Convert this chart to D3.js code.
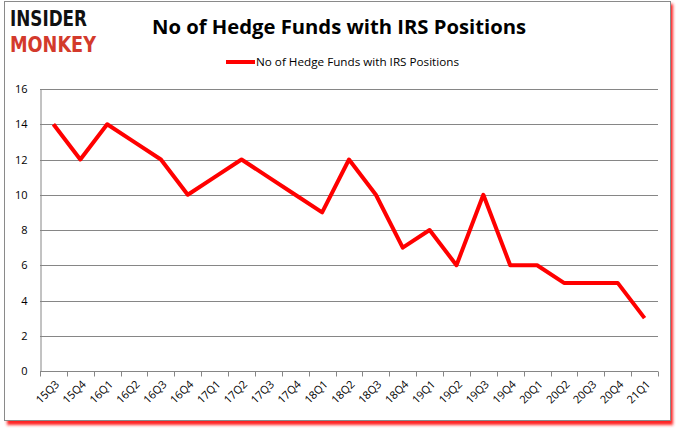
<!DOCTYPE html>
<html>
<head>
<meta charset="utf-8">
<script src="https://cdn.jsdelivr.net/npm/d3@7"></script>
<style>
  body { margin: 0; background: #fff; }
  svg { display: block; }
  text { font-family: "Open Sans", "DejaVu Sans", sans-serif; }
</style>
</head>
<body>
<svg id="chart" width="678" height="431"></svg>
<script>
'use strict';

// quarters on the x axis
var quarters = ['15Q3', '15Q4', '16Q1', '16Q2', '16Q3', '16Q4', '17Q1', '17Q2', '17Q3', '17Q4',
    '18Q1', '18Q2', '18Q3', '18Q4', '19Q1', '19Q2', '19Q3', '19Q4', '20Q1', '20Q2', '20Q3', '20Q4', '21Q1'];

// number of hedge funds holding IRS
var funds = [14, 12, 14, 13, 12, 10, 11, 12, 11, 10, 9, 12, 10, 7, 8, 6, 10, 6, 6, 5, 5, 5, 3];

var yTicks = [0, 2, 4, 6, 8, 10, 12, 14, 16];

var seriesName = 'No of Hedge Funds with IRS Positions';

var svg = d3.select('#chart');

// red drop shadow + frame
var defs = svg.append('defs');
var blur = defs.append('filter').attr('id', 'shadow')
    .attr('x', '-5%').attr('y', '-5%').attr('width', '110%').attr('height', '110%');
blur.append('feGaussianBlur').attr('stdDeviation', 1.5);

svg.append('rect')
    .attr('x', 7).attr('y', 4).attr('width', 666).attr('height', 421)
    .attr('fill', '#ff2020').attr('filter', 'url(#shadow)');
svg.append('rect')
    .attr('x', 4.5).attr('y', 1.5).attr('width', 666).attr('height', 419)
    .attr('fill', '#fff').attr('stroke', '#8a8a8a').attr('stroke-width', 1);

// logo
svg.append('text').attr('x', 10).attr('y', 26)
    .attr('textLength', 77).attr('lengthAdjust', 'spacingAndGlyphs')
    .style('font-family', '"DejaVu Sans", sans-serif')
    .style('font-weight', 'bold').style('font-size', '22px').attr('fill', '#111')
    .text('INSIDER');
svg.append('text').attr('x', 10).attr('y', 52)
    .attr('textLength', 86).attr('lengthAdjust', 'spacingAndGlyphs')
    .style('font-family', '"DejaVu Sans", sans-serif')
    .style('font-weight', 'bold').style('font-size', '22px').attr('fill', '#d33a2c')
    .text('MONKEY');

// title
svg.append('text').attr('x', 152).attr('y', 34)
    .attr('textLength', 374).attr('lengthAdjust', 'spacingAndGlyphs')
    .style('font-weight', 'bold').style('font-size', '20px').attr('fill', '#000')
    .text('No of Hedge Funds with IRS Positions');

// legend
svg.append('line').attr('x1', 226).attr('x2', 255).attr('y1', 62).attr('y2', 62)
    .attr('stroke', '#ff0000').attr('stroke-width', 4);
svg.append('text').attr('x', 256).attr('y', 66)
    .attr('textLength', 203).attr('lengthAdjust', 'spacingAndGlyphs')
    .style('font-size', '11px').attr('fill', '#000')
    .text(seriesName);

var margin = {left: 40, right: 658, top: 89, bottom: 371};

var x = d3.scaleBand().domain(quarters).range([margin.left, margin.right]);
var y = d3.scaleLinear().domain([0, 16]).range([margin.bottom, margin.top]);

// gridlines
svg.append('g').selectAll('line')
    .data(yTicks.filter(function (d) { return d > 0; }))
  .enter().append('line')
    .attr('x1', margin.left).attr('x2', margin.right)
    .attr('y1', function (d) { return Math.round(y(d)) + 0.5; })
    .attr('y2', function (d) { return Math.round(y(d)) + 0.5; })
    .attr('stroke', '#868686').attr('stroke-width', 1);

// y axis
var yAxis = svg.append('g')
    .attr('transform', 'translate(' + (margin.left + 0.5) + ',0)')
    .call(d3.axisLeft(y).tickValues(yTicks).tickSize(0).tickPadding(13));
yAxis.select('.domain').attr('stroke', '#868686');
yAxis.selectAll('text').style('font-family', '"Open Sans", sans-serif')
    .style('font-size', '11px').attr('fill', '#000');

// x axis: ticks at category boundaries
var xAxisG = svg.append('g').attr('transform', 'translate(0,' + (Math.round(y(0)) + 0.5) + ')');
xAxisG.append('line').attr('x1', margin.left).attr('x2', margin.right)
    .attr('stroke', '#868686');
xAxisG.selectAll('.bound')
    .data(d3.range(quarters.length + 1))
  .enter().append('line')
    .attr('class', 'bound')
    .attr('x1', function (i) { return Math.round(margin.left + i * x.step()) + 0.5; })
    .attr('x2', function (i) { return Math.round(margin.left + i * x.step()) + 0.5; })
    .attr('y1', 0).attr('y2', 5)
    .attr('stroke', '#868686');
xAxisG.selectAll('.qlabel')
    .data(quarters)
  .enter().append('text')
    .attr('class', 'qlabel')
    .attr('text-anchor', 'end')
    .attr('transform', function (d) {
        return 'translate(' + (x(d) + x.bandwidth() / 2 + 1) + ',8) rotate(-45)';
    })
    .attr('dy', '0.7em')
    .style('font-size', '11px').attr('fill', '#000')
    .text(function (d) { return d; });

// series line
var line = d3.line()
    .x(function (d, i) { return x(quarters[i]) + x.bandwidth() / 2; })
    .y(function (d) { return y(d); });

svg.append('path')
    .datum(funds)
    .attr('d', line)
    .attr('fill', 'none')
    .attr('stroke', '#ff0000')
    .attr('stroke-width', 4)
    .attr('stroke-linejoin', 'round');
</script>
</body>
</html>
